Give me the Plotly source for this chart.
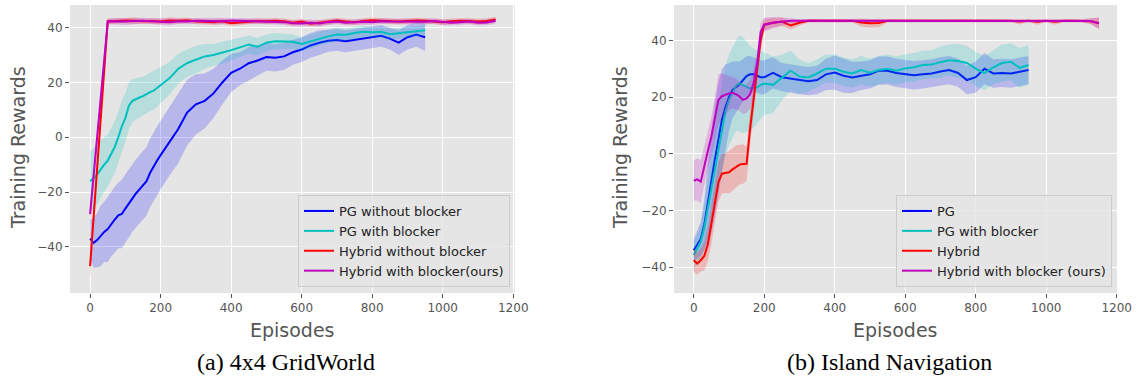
import numpy as np
import plotly.graph_objects as go

W, H = 1138, 380

# ---------------- data: (a) 4x4 GridWorld ----------------
ep_pg = list(range(0, 201, 10)) + list(range(225, 951, 25))
pg_noblk_a = [-37, -38.5, -37.5, -36, -34.5, -33.5, -31.5, -30, -28.5, -28, -26,
              -24, -22, -20.5, -19, -17.5, -16, -13, -11, -8.5, -6.5,
              -1.5, 3, 9, 12, 13.3, 16, 20, 23.5, 25, 27, 28, 29.3, 29, 29.5, 31,
              32, 33.5, 34.5, 35.2, 35.5, 35, 35.5, 36, 36.5, 37, 36, 34.5, 36.5, 37.5, 36.5]
pg_noblk_a_sd = [7, 9, 10, 11, 11, 12, 12, 12, 12, 12.5, 12.5, 12.5, 12.5, 12.5, 12.5, 12.5,
                 12.5, 12.5, 12.5, 12.5, 12.5,
                 12.5, 12.5, 12, 11, 10, 9, 8, 7, 6, 6, 5.5, 5, 5, 5, 4.5,
                 4.5, 4.5, 4.5, 4, 4, 4, 4, 4, 4, 4, 4, 4.5, 4.5, 4.5, 5]
pg_blk_a = [-16, -15, -13.5, -11.5, -10, -8.5, -6, -3.5, 0, 4, 7,
            11.5, 13.3, 14, 14.5, 15, 15.8, 16.5, 17, 18, 19,
            21.5, 25, 27, 28.3, 29.5, 30, 30.8, 31.8, 32.8, 33.8, 33, 34.5, 35, 35, 34.8,
            34, 35, 36, 36.8, 37.5, 37.4, 38, 38.5, 38.3, 38.5, 37.6, 38, 38.3, 38.6, 39]
pg_blk_a_sd = [11, 11, 11, 10.5, 10, 9.5, 9.5, 9.5, 9.5, 9.5, 9, 8.5, 8, 7.5, 7.5, 7,
               7, 7, 7, 7, 6.5,
               6, 5.5, 5, 5, 4.5, 4, 4, 3.8, 3.5, 3.3, 3.2, 3, 3, 2.8, 2.7,
               2.5, 2.5, 2.5, 2.5, 2.5, 2.3, 2.2, 2.2, 2, 2, 2, 2, 2, 2, 2]
ep_hy_a = [0] + list(range(50, 1151, 25))
hy_noblk_a = [-47, 42.3, 42.4, 42.6, 42.5, 42.3, 42.4, 42.2, 42.6, 42.5, 42.7, 42.2,
              42.1, 42.0, 42.3, 41.6, 41.9, 42.2, 42.4, 42.3, 42.5, 42.3, 41.8, 42.2,
              41.4, 41.8, 42.1, 42.6, 42.2, 42.0, 42.4, 42.7, 42.5, 42.4, 42.2, 42.4,
              42.6, 42.5, 42.2, 42.0, 42.3, 42.5, 42.4, 42.2, 42.4, 43.0]
hy_noblk_a_sd = [5, 1, 1, 1, 1.2, 1, 1, 1, 1.2, 1, 1, 1, 1, 1, 1, 1, 1, 1, 1, 1, 1, 1, 1, 1,
                 1, 1, 1, 1, 1, 1, 1, 1, 1, 1, 1, 1, 1, 1, 1, 1, 1, 1, 1, 1, 1, 1]
hy_blk_a = [-28, 42.2, 42.3, 42.2, 42.4, 42.5, 42.3, 42.2, 42.0, 42.3, 42.2, 42.5,
            42.4, 42.4, 42.3, 42.6, 42.5, 42.4, 42.3, 42.2, 42.1, 42.0, 41.6, 41.5,
            41.8, 41.5, 42.0, 42.2, 41.8, 42.0, 42.1, 42.0, 42.3, 42.2, 42.2, 42.1,
            42.3, 42.1, 42.4, 42.0, 41.8, 42.0, 42.2, 41.8, 41.9, 42.5]
hy_blk_a_sd = [4, 1, 1.2, 1.2, 1.2, 1, 1.2, 1.2, 1.2, 1, 1, 1, 1.2, 1.2, 1.2, 1, 1, 1, 1, 1,
               1, 1, 1.2, 1.2, 1.2, 1.2, 1, 1, 1, 1, 1, 1, 1, 1, 1, 1, 1, 1, 1, 1, 1, 1, 1,
               1, 1, 1]

# ---------------- data: (b) Island Navigation ----------------
ep_hy_b = list(range(0, 201, 10)) + list(range(225, 1151, 25))
pg_b = [-34, -31.8, -30, -25, -17, -10, -2, 5, 12, 16.5, 20,
        22.5, 23.5, 24.5, 26, 27.4, 28, 28, 27.5, 27, 27,
        28.5, 27, 26.5, 26, 25.6, 26, 28, 28.6, 27.5, 26.9, 27.5, 28, 29.3, 29.3, 28.5,
        28.2, 27.7, 28, 28.3, 29, 29.5, 28.5, 26, 27, 30, 28.3, 28.5, 28.3, 29, 29.5]
pg_b_sd = [4, 5, 6, 9, 14, 18, 20, 20, 18, 15, 12, 10, 9, 8, 7.5, 7, 6.5, 6, 6, 6, 6,
           5.5, 5, 5, 5, 5, 5, 5.5, 6, 6, 5.5, 5, 5, 5, 5, 5, 5, 5, 5, 5, 5, 5, 5,
           5, 5.5, 5.5, 5, 5, 5, 5, 5]
pg_blk_b = [-35.7, -33.5, -31, -26, -19, -12, -5, 2, 9, 15, 19,
            21.5, 24, 24.8, 24.2, 23.5, 23, 23.2, 23.4, 24.3, 24.8,
            24.3, 26.8, 29.3, 27.2, 26.9, 28.3, 30, 30, 28.9, 28.3, 29.5, 28.6, 29.5, 30,
            29.3, 30.1, 30.5, 31.3, 31.5, 32.3, 33, 32.7, 32, 30, 28.4, 30.5, 32, 32.4,
            30.3, 31.3]
pg_blk_b_sd = [5, 5, 6, 8, 10, 12, 14, 15, 16, 16, 16, 16, 16, 17, 17, 16, 15, 14,
               13, 12, 11,
               10, 8, 7, 6, 5, 5, 5, 5, 5, 5, 5, 5, 5, 5, 5, 5, 5, 5, 5, 5.5, 5.5, 6, 6,
               6, 6, 6, 6.5, 6.5, 7, 7]
hy_b = [-37.5, -38.7, -37.5, -36, -32, -25, -17, -10, -7, -6.8, -6.5,
        -5.5, -4.5, -3.8, -3.6, -3.5, 9, 19.5, 30, 40, 45.5,
        46.2, 46.6, 45.2, 46.2, 46.9, 46.9, 46.9, 46.9, 46.8, 46.9, 46.3, 46.0, 46.1,
        46.9, 46.9, 46.9, 46.9, 46.9, 46.9, 46.9, 46.9, 46.9, 46.9, 46.9, 46.9, 46.9,
        46.9, 46.9, 46.6, 46.9, 46.5, 46.9, 46.5, 46.9, 46.9, 46.9, 46.7, 46.0]
hy_b_sd = [4, 4, 4, 5, 6, 7, 7, 7, 7, 7, 7.5, 7.5, 7.5, 7, 7, 6, 6, 5, 4, 3, 2,
           1.5, 1.5, 1.5, 1, 0.6, 0.5, 0.5, 0.5, 0.5, 0.5, 1.5, 1.5, 1.5, 0.5, 0.5,
           0.5, 0.5, 0.5, 0.5, 0.5, 0.5, 0.5, 0.5, 0.5, 0.5, 0.5, 0.5, 0.5, 1, 0.5,
           1, 0.5, 1, 0.5, 0.5, 0.5, 1, 2]
hy_blk_b = [-9.5, -9, -9.8, -4, 1, 6, 12, 19, 20.3, 20.8, 21.3,
            21.5, 21, 20.2, 19, 19.5, 21, 25, 32, 43, 45.5,
            46.2, 46.6, 46.9, 46.9, 46.9, 46.9, 46.9, 46.9, 46.9, 46.9, 46.9, 46.9,
            46.9, 46.9, 46.9, 46.9, 46.9, 46.9, 46.9, 46.9, 46.9, 46.9, 46.9, 46.9,
            46.9, 46.9, 46.9, 46.9, 46.9, 46.9, 46.9, 46.9, 46.9, 46.9, 46.9, 46.9,
            46.8, 46.0]
hy_blk_b_sd = [7, 7.5, 7.5, 7, 7, 7, 8, 9, 8, 7, 6, 5.5, 5.5, 5, 5, 5, 5, 5, 4, 3,
               2.5, 2, 1.5, 1, 0.5, 0.5, 0.5, 0.5, 0.5, 0.5, 0.5, 0.5, 0.5, 0.5, 0.5,
               0.5, 0.5, 0.5, 0.5, 0.5, 0.5, 0.5, 0.5, 0.5, 0.5, 0.5, 0.5, 0.5, 0.5,
               0.5, 0.5, 0.5, 0.5, 0.5, 0.5, 0.5, 0.5, 1, 2]

names_a = ["PG without blocker", "PG with blocker", "Hybrid without blocker",
           "Hybrid with blocker(ours)"]
names_b = ["PG", "PG with blocker", "Hybrid", "Hybrid with blocker (ours)"]
colors = ["#0000FF", "#00BFBF", "#FF0000", "#BF00BF"]
fills = ["rgba(0,0,255,0.2)", "rgba(0,191,191,0.2)", "rgba(255,0,0,0.2)",
         "rgba(191,0,191,0.2)"]

x_ticks = [0, 200, 400, 600, 800, 1000, 1200]
y_ticks = [-40, -20, 0, 20, 40]
captions = ["(a) 4x4 GridWorld", "(b) Island Navigation"]

fig = go.Figure()

def px_x(p):
    return p / W

def px_y(p):
    return 1 - p / H

panels = [
    dict(xa="x", ya="y", legend="legend", names=names_a,
         series=[(ep_pg, pg_noblk_a, pg_noblk_a_sd), (ep_pg, pg_blk_a, pg_blk_a_sd),
                 (ep_hy_a, hy_noblk_a, hy_noblk_a_sd), (ep_hy_a, hy_blk_a, hy_blk_a_sd)]),
    dict(xa="x2", ya="y2", legend="legend2", names=names_b,
         series=[(ep_pg, pg_b, pg_b_sd), (ep_pg, pg_blk_b, pg_blk_b_sd),
                 (ep_hy_b, hy_b, hy_b_sd), (ep_hy_b, hy_blk_b, hy_blk_b_sd)]),
]

for pnl in panels:
    for i, (ex, m, sd) in enumerate(pnl["series"]):
        ex = np.array(ex, dtype=float)
        m = np.array(m, dtype=float)
        sd = np.array(sd, dtype=float)
        up, lo = m + sd, m - sd
        fig.add_trace(go.Scatter(
            x=np.concatenate([ex, ex[::-1]]), y=np.concatenate([up, lo[::-1]]),
            fill="toself", fillcolor=fills[i], line=dict(width=0), mode="lines",
            hoverinfo="skip", showlegend=False, xaxis=pnl["xa"], yaxis=pnl["ya"]))
        fig.add_trace(go.Scatter(
            x=ex, y=m, mode="lines", name=pnl["names"][i],
            line=dict(color=colors[i], width=2), legend=pnl["legend"],
            xaxis=pnl["xa"], yaxis=pnl["ya"]))

tickfont = dict(family="DejaVu Sans", size=12, color="#555555")
axis_common = dict(showgrid=True, gridcolor="white", gridwidth=1.2, zeroline=False,
                   showline=False, ticks="outside", ticklen=4, tickwidth=1,
                   tickcolor="#555555", tickfont=tickfont, automargin=False)

y_dom = [px_y(293), px_y(5)]
fig.update_layout(
    width=W, height=H, margin=dict(l=0, r=0, t=0, b=0),
    paper_bgcolor="white", plot_bgcolor="#E5E5E5",
    font=dict(family="DejaVu Sans"),
    xaxis=dict(domain=[px_x(70), px_x(515)], range=[-57, 1205], tickvals=x_ticks,
               anchor="y", **axis_common),
    yaxis=dict(domain=y_dom, range=[-56.8, 48.25], tickvals=y_ticks, anchor="x",
               **axis_common),
    xaxis2=dict(domain=[px_x(674), px_x(1117)], range=[-56, 1201], tickvals=x_ticks,
                anchor="y2", **axis_common),
    yaxis2=dict(domain=y_dom, range=[-49.06, 52.44], tickvals=y_ticks, anchor="x2",
                **axis_common),
    legend=dict(x=px_x(510), y=px_y(287), xanchor="right", yanchor="bottom",
                bgcolor="rgba(229,229,229,0.8)", bordercolor="#CCCCCC", borderwidth=1,
                font=dict(family="DejaVu Sans", size=13, color="#222222"),
                itemwidth=30, tracegroupgap=0),
    legend2=dict(x=px_x(1112), y=px_y(287), xanchor="right", yanchor="bottom",
                 bgcolor="rgba(229,229,229,0.8)", bordercolor="#CCCCCC", borderwidth=1,
                 font=dict(family="DejaVu Sans", size=13, color="#222222"),
                 itemwidth=30, tracegroupgap=0),
)

annos = []
for cx in [293, 895]:
    annos.append(dict(text="Episodes", x=px_x(cx), y=px_y(330), xref="paper", yref="paper",
                      showarrow=False, font=dict(family="DejaVu Sans", size=19, color="#555555"),
                      xanchor="center", yanchor="middle"))
for cx, cap in zip([286, 889], captions):
    annos.append(dict(text=cap, x=px_x(cx), y=px_y(362), xref="paper", yref="paper",
                      showarrow=False, font=dict(family="Liberation Serif", size=24, color="black"),
                      xanchor="center", yanchor="middle"))
for cx in [18, 620]:
    annos.append(dict(text="Training Rewards", x=px_x(cx), y=px_y(148), xref="paper",
                      yref="paper", showarrow=False, textangle=-90,
                      font=dict(family="DejaVu Sans", size=19, color="#555555"),
                      xanchor="center", yanchor="middle"))
fig.update_layout(annotations=annos)

fig.write_html("out.html", config={"displayModeBar": False},
               post_script="document.body.style.margin='0';document.body.style.padding='0';")
